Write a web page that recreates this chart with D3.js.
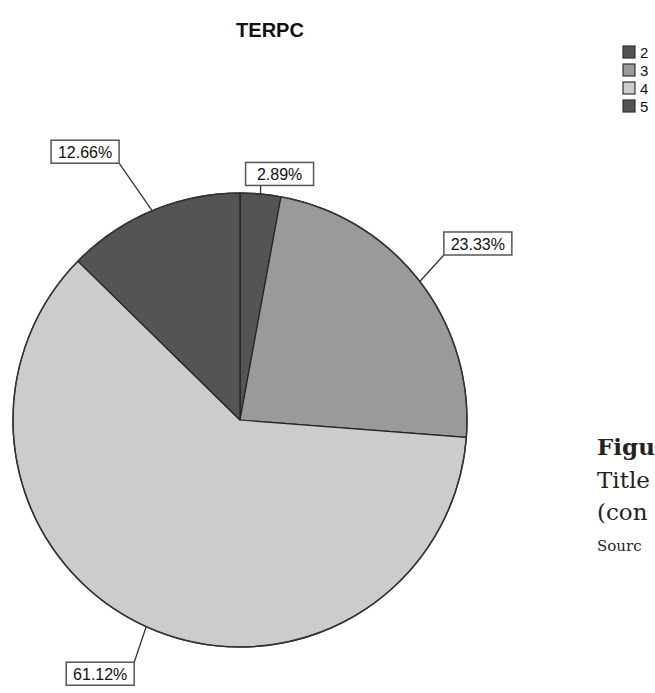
<!DOCTYPE html>
<html>
<head>
<meta charset="utf-8">
<script src="https://cdn.jsdelivr.net/npm/d3@7"></script>
<style>
  html, body { margin: 0; padding: 0; background: #fff; }
  svg { display: block; }
</style>
</head>
<body>
<svg id="chart" width="655" height="693"></svg>
<script>
// TERPC response distribution
const categories = ["2", "3", "4", "5"];
const percents = [2.89, 23.33, 61.12, 12.66];
const sliceColors = ["#545454", "#9a9a9a", "#cccccc", "#545454"];
const chartTitle = "TERPC";
const captionLines = ["Figu", "Title", "(con", "Sourc"];

// label box offsets from each slice's arc midpoint (same order as categories)
const labelOffsets = [[19, -20], [58, -38], [-46, 47], [-67, -59]];

const svg = d3.select("#chart");
const cx = 240, cy = 420, R = 227;

svg.append("text")
  .attr("x", 270).attr("y", 37)
  .attr("text-anchor", "middle")
  .attr("font-family", "Liberation Sans, Arial, sans-serif")
  .attr("font-weight", "bold")
  .attr("font-size", 20)
  .attr("fill", "#111")
  .text(chartTitle);

const data = categories.map((c, i) => ({ cat: c, value: percents[i], color: sliceColors[i], off: labelOffsets[i] }));

const pie = d3.pie().value(d => d.value).sort(null);
const arc = d3.arc().innerRadius(0).outerRadius(R);
const arcs = pie(data);

const g = svg.append("g").attr("transform", `translate(${cx},${cy})`);

g.selectAll("path.slice")
  .data(arcs)
  .join("path")
  .attr("class", "slice")
  .attr("d", arc)
  .attr("fill", d => d.data.color)
  .attr("stroke", "#222")
  .attr("stroke-width", 1.2)
  .attr("stroke-linejoin", "round");

// outer rim
g.append("circle").attr("r", R).attr("fill", "none").attr("stroke", "#333").attr("stroke-width", 1.5);

// value labels with leader lines to the nearest point of each box
const fmt = v => v.toFixed(2) + "%";
const boxW = 68, boxH = 23;
arcs.forEach(a => {
  const mid = (a.startAngle + a.endAngle) / 2;
  const px = R * Math.sin(mid), py = -R * Math.cos(mid);
  const bx = px + a.data.off[0], by = py + a.data.off[1];
  const ex = Math.max(bx - boxW / 2, Math.min(bx + boxW / 2, px));
  const ey = Math.max(by - boxH / 2, Math.min(by + boxH / 2, py));
  g.append("line")
    .attr("x1", px).attr("y1", py).attr("x2", ex).attr("y2", ey)
    .attr("stroke", "#333").attr("stroke-width", 1.3);
  g.append("rect")
    .attr("x", bx - boxW / 2).attr("y", by - boxH / 2)
    .attr("width", boxW).attr("height", boxH)
    .attr("fill", "#fff").attr("stroke", "#555").attr("stroke-width", 1.5);
  g.append("text")
    .attr("x", bx).attr("y", by + 6)
    .attr("text-anchor", "middle")
    .attr("font-family", "Liberation Sans, Arial, sans-serif")
    .attr("font-size", 16)
    .attr("fill", "#111")
    .text(fmt(a.data.value));
});

// legend
const legend = svg.append("g").attr("transform", "translate(623,46)");
const lg = legend.selectAll("g").data(data).join("g")
  .attr("transform", (d, i) => `translate(0,${i * 18})`);
lg.append("rect").attr("width", 12).attr("height", 12)
  .attr("fill", d => d.color).attr("stroke", "#333").attr("stroke-width", 1.2);
lg.append("text").attr("x", 17).attr("y", 12)
  .attr("font-family", "Liberation Sans, Arial, sans-serif")
  .attr("font-size", 15).attr("fill", "#111")
  .text(d => d.cat);

// caption block at the right edge
const cap = svg.append("g").attr("font-family", "DejaVu Serif, Liberation Serif, serif").attr("fill", "#222");
cap.append("text").attr("x", 597).attr("y", 455).attr("font-size", 23).attr("font-weight", "bold").text(captionLines[0]);
cap.append("text").attr("x", 597).attr("y", 488).attr("font-size", 23).text(captionLines[1]);
cap.append("text").attr("x", 597).attr("y", 520).attr("font-size", 23).text(captionLines[2]);
cap.append("text").attr("x", 597).attr("y", 551).attr("font-size", 15).text(captionLines[3]);
</script>
</body>
</html>
